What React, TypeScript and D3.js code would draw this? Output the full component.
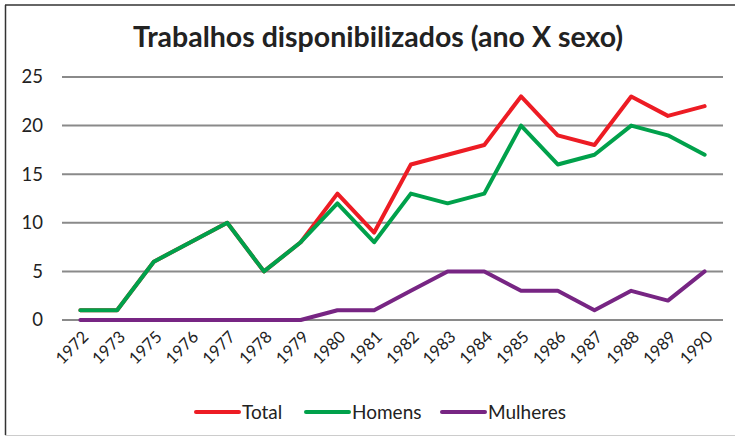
import React, { useEffect, useRef } from 'react';
import * as d3 from 'd3';

const years = ['1972', '1973', '1975', '1976', '1977', '1978', '1979', '1980', '1981', '1982', '1983', '1984', '1985', '1986', '1987', '1988', '1989', '1990'];
const total = [1, 1, 6, 8, 10, 5, 8, 13, 9, 16, 17, 18, 23, 19, 18, 23, 21, 22];
const homens = [1, 1, 6, 8, 10, 5, 8, 12, 8, 13, 12, 13, 20, 16, 17, 20, 19, 17];
const mulheres = [0, 0, 0, 0, 0, 0, 0, 1, 1, 3, 5, 5, 3, 3, 1, 3, 2, 5];
const yTicks = [0, 5, 10, 15, 20, 25];

const series = [
  { name: 'Total', values: total, color: '#ed1c24' },
  { name: 'Homens', values: homens, color: '#00a14b' },
  { name: 'Mulheres', values: mulheres, color: '#772583' },
];

const FONT = 'Lato, "Open Sans", sans-serif';

export default function App() {
  const ref = useRef<SVGSVGElement>(null);

  useEffect(() => {
    const svg = d3.select(ref.current);
    svg.selectAll('*').remove();

    const width = 735;
    const height = 437;

    svg.append('rect').attr('width', width).attr('height', height).attr('fill', '#fff');

    // frame: dark top/left, light bottom
    svg.append('line').attr('x1', 5).attr('x2', width).attr('y1', 5).attr('y2', 5)
      .attr('stroke', '#333').attr('stroke-width', 1.5);
    svg.append('line').attr('x1', 5.5).attr('x2', 5.5).attr('y1', 5).attr('y2', 435)
      .attr('stroke', '#333').attr('stroke-width', 1.5);
    svg.append('line').attr('x1', 5).attr('x2', width).attr('y1', 435.5).attr('y2', 435.5)
      .attr('stroke', '#ccc').attr('stroke-width', 1);

    const x = d3.scaleBand().domain(years).range([62, 723]);
    const y = d3.scaleLinear().domain([0, 25]).range([320, 77]);
    const cx = (d: string) => (x(d) as number) + x.bandwidth() / 2;

    // title
    svg.append('text')
      .attr('x', 378).attr('y', 47)
      .attr('text-anchor', 'middle')
      .attr('font-family', FONT).attr('font-weight', 'bold').attr('font-size', 28.5)
      .attr('fill', '#222')
      .text('Trabalhos disponibilizados (ano X sexo)');

    // gridlines
    svg.append('g').selectAll('line').data(yTicks).join('line')
      .attr('x1', 62).attr('x2', 723)
      .attr('y1', d => y(d)).attr('y2', d => y(d))
      .attr('stroke', '#8a8a8a').attr('stroke-width', 2);

    svg.append('g').selectAll('text').data(yTicks).join('text')
      .attr('x', 43).attr('y', d => y(d))
      .attr('dy', '0.35em')
      .attr('text-anchor', 'end')
      .attr('font-family', FONT).attr('font-size', 18.5).attr('fill', '#222')
      .text(d => d);

    // x labels
    svg.append('g').selectAll('text').data(years).join('text')
      .attr('transform', d => `translate(${cx(d) + 5},${334}) rotate(-45)`)
      .attr('text-anchor', 'end')
      .attr('dy', '0.35em')
      .attr('font-family', FONT).attr('font-size', 16.5).attr('fill', '#222')
      .text(d => d);

    const line = d3.line<number>()
      .x((_, i) => cx(years[i]))
      .y(d => y(d));

    svg.append('g').selectAll('path').data(series).join('path')
      .attr('d', d => line(d.values))
      .attr('fill', 'none')
      .attr('stroke', d => d.color)
      .attr('stroke-width', 4)
      .attr('stroke-linejoin', 'round')
      .attr('stroke-linecap', 'round');

    // legend
    const legendX = [196, 306, 442];
    const lg = svg.append('g').selectAll('g').data(series).join('g')
      .attr('transform', (_, i) => `translate(${legendX[i]},412)`);
    lg.append('line')
      .attr('x1', 0).attr('x2', 43).attr('y1', 0).attr('y2', 0)
      .attr('stroke', d => d.color).attr('stroke-width', 4).attr('stroke-linecap', 'round');
    lg.append('text')
      .attr('x', 46).attr('dy', '0.35em')
      .attr('font-family', FONT).attr('font-size', 19).attr('fill', '#222')
      .text(d => d.name);
  }, []);

  return (
    <svg
      ref={ref}
      width={735}
      height={437}
      style={{ position: 'absolute', left: 0, top: 0, display: 'block' }}
    />
  );
}
